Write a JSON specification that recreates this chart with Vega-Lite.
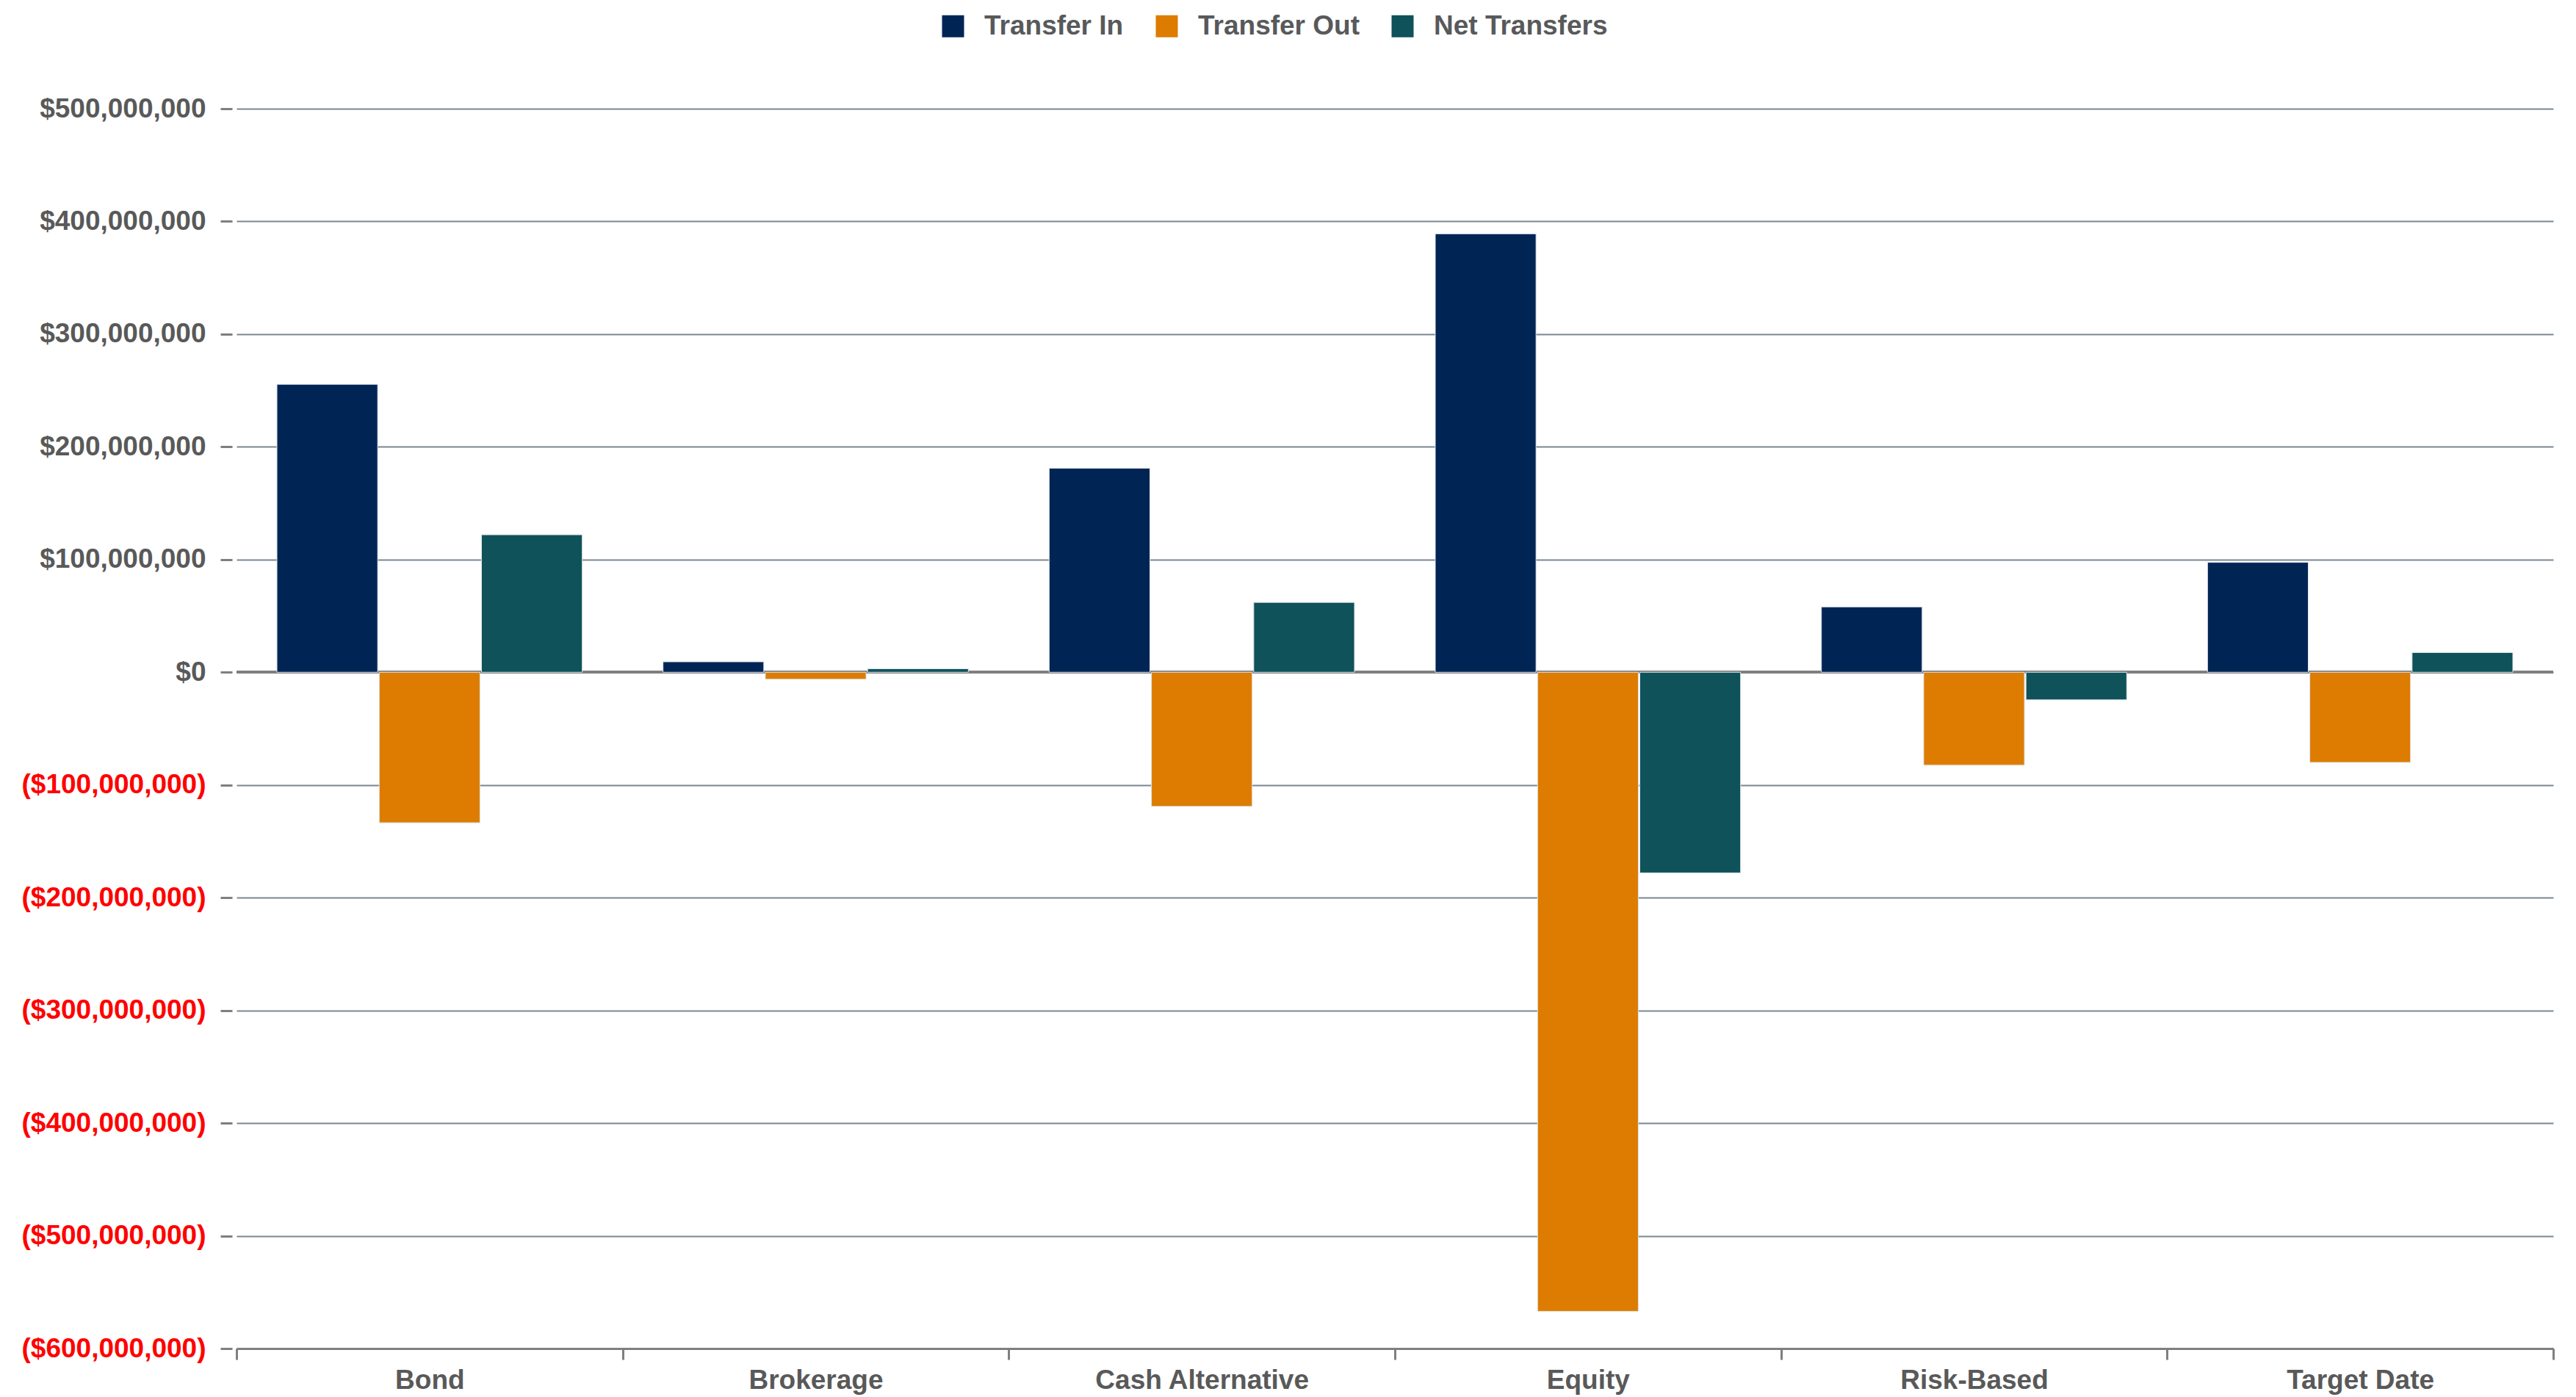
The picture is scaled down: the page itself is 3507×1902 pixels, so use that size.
{
  "$schema": "https://vega.github.io/schema/vega-lite/v6.json",
  "autosize": {"type": "none"},
  "padding": {"left": 322, "top": 148, "right": 31, "bottom": 66},
  "width": 3154,
  "height": 1688,
  "background": "white",
  "config": {
    "view": {"stroke": null},
    "font": "Liberation Sans"
  },
  "data": {
    "values": [
      {"category": "Bond", "type": "Transfer In", "value": 255500000},
      {"category": "Bond", "type": "Transfer Out", "value": -133500000},
      {"category": "Bond", "type": "Net Transfers", "value": 122000000},
      {"category": "Brokerage", "type": "Transfer In", "value": 9300000},
      {"category": "Brokerage", "type": "Transfer Out", "value": -6200000},
      {"category": "Brokerage", "type": "Net Transfers", "value": 3100000},
      {"category": "Cash Alternative", "type": "Transfer In", "value": 181000000},
      {"category": "Cash Alternative", "type": "Transfer Out", "value": -119000000},
      {"category": "Cash Alternative", "type": "Net Transfers", "value": 62000000},
      {"category": "Equity", "type": "Transfer In", "value": 389000000},
      {"category": "Equity", "type": "Transfer Out", "value": -567000000},
      {"category": "Equity", "type": "Net Transfers", "value": -178000000},
      {"category": "Risk-Based", "type": "Transfer In", "value": 58000000},
      {"category": "Risk-Based", "type": "Transfer Out", "value": -82500000},
      {"category": "Risk-Based", "type": "Net Transfers", "value": -24500000},
      {"category": "Target Date", "type": "Transfer In", "value": 97500000},
      {"category": "Target Date", "type": "Transfer Out", "value": -80000000},
      {"category": "Target Date", "type": "Net Transfers", "value": 17500000}
    ]
  },
  "layer": [
    {
      "mark": {"type": "rule", "color": "#7f7f7f", "strokeWidth": 3},
      "encoding": {"y": {"datum": 0, "type": "quantitative"}}
    },
    {
      "mark": {"type": "bar", "stroke": "#dfe6ee", "strokeWidth": 1},
      "encoding": {
        "x": {
          "field": "category",
          "type": "nominal",
          "sort": null,
          "scale": {"paddingInner": 0, "paddingOuter": 0},
          "axis": {
            "title": null,
            "labelAngle": 0,
            "labelFont": "Liberation Sans",
            "labelFontWeight": "bold",
            "labelFontSize": 37,
            "labelColor": "#595959",
            "labelLimit": 1000,
            "labelPadding": 10,
            "domainColor": "#7f7f7f",
            "domainWidth": 3,
            "tickColor": "#7f7f7f",
            "tickWidth": 3,
            "tickSize": 15,
            "tickBand": "extent",
            "grid": false
          }
        },
        "xOffset": {
          "field": "type",
          "type": "nominal",
          "sort": ["Transfer In", "Transfer Out", "Net Transfers"],
          "scale": {"paddingInner": 0.015, "paddingOuter": 0.395}
        },
        "y": {
          "field": "value",
          "type": "quantitative",
          "scale": {"domain": [-600000000, 500000000], "nice": false, "zero": false},
          "axis": {
            "title": null,
            "values": [-600000000, -500000000, -400000000, -300000000, -200000000, -100000000, 0, 100000000, 200000000, 300000000, 400000000, 500000000],
            "labelExpr": "datum.value < 0 ? '($' + format(-datum.value, ',') + ')' : '$' + format(datum.value, ',')",
            "labelFont": "Liberation Sans",
            "labelFontWeight": "bold",
            "labelFontSize": 37,
            "labelLimit": 1000,
            "labelColor": {"condition": {"test": "datum.value < 0", "value": "#FF0000"}, "value": "#595959"},
            "labelPadding": 20,
            "domain": false,
            "offset": 6,
            "tickColor": "#7f7f7f",
            "tickWidth": 3,
            "tickSize": 16,
            "grid": true,
            "gridColor": "#7a8793",
            "gridWidth": 2
          }
        },
        "color": {
          "field": "type",
          "type": "nominal",
          "sort": ["Transfer In", "Transfer Out", "Net Transfers"],
          "scale": {
            "domain": ["Transfer In", "Transfer Out", "Net Transfers"],
            "range": ["#002554", "#DD7C00", "#0F5259"]
          },
          "legend": {
            "title": null,
            "orient": "none",
            "legendX": 957,
            "legendY": -131,
            "direction": "horizontal",
            "symbolType": "square",
            "symbolSize": 900,
            "symbolStrokeWidth": 0,
            "labelFont": "Liberation Sans",
            "labelFontWeight": "bold",
            "labelFontSize": 37,
            "labelLimit": 1000,
            "labelColor": "#58595B",
            "labelOffset": 24,
            "columnPadding": 40
          }
        }
      }
    }
  ]
}
